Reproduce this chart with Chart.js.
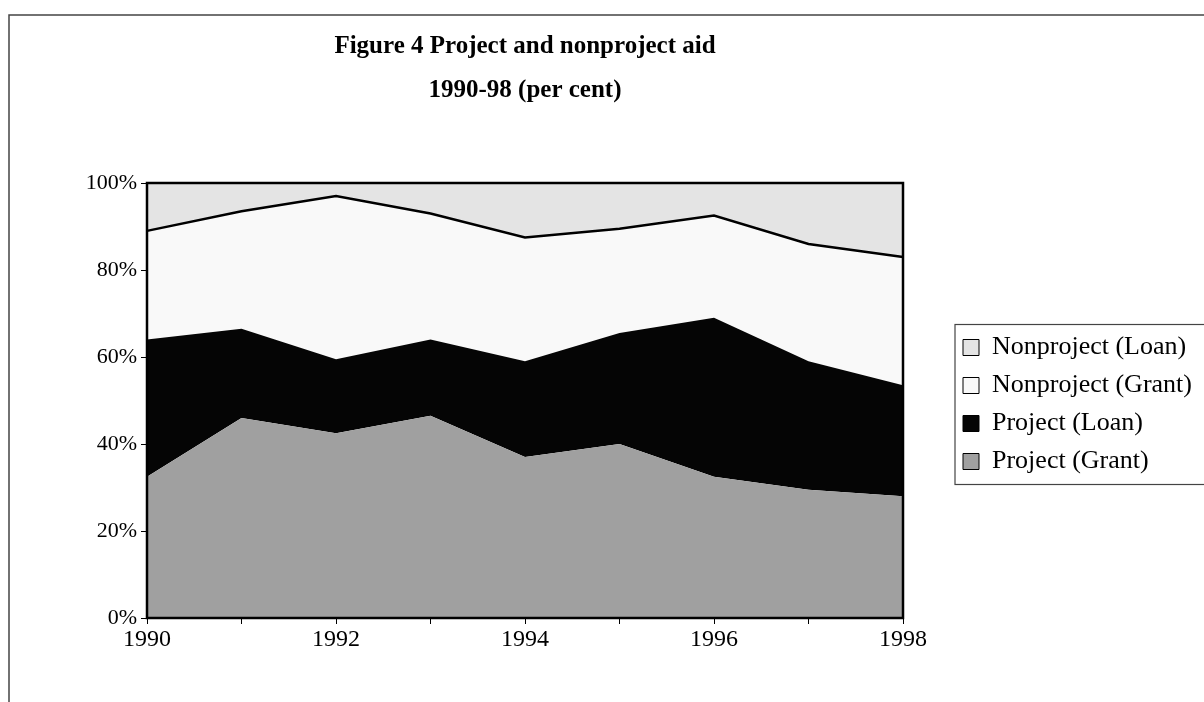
<!DOCTYPE html>
<html>
<head>
<meta charset="utf-8">
<script src="https://cdn.jsdelivr.net/npm/chart.js@4"></script>
<style>
  html, body { margin: 0; padding: 0; background: #fff; }
  #wrap { width: 1204px; height: 702px; }
</style>
</head>
<body>
<div id="wrap"><canvas id="aidChart" width="1204" height="702"></canvas></div>
<script>
// Years on the x axis
const years = ["1990", "1991", "1992", "1993", "1994", "1995", "1996", "1997", "1998"];

// Shares of total aid (per cent), stacked from the bottom up
const projectGrant = [32.5, 46, 42.5, 46.5, 37, 40, 32.5, 29.5, 28];
const projectLoan = [31.5, 20.5, 17, 17.5, 22, 25.5, 36.5, 29.5, 25.5];
const nonprojectGrant = [25, 27, 37.5, 29, 28.5, 24, 23.5, 27, 29.5];
const nonprojectLoan = [11, 6.5, 3, 7, 12.5, 10.5, 7.5, 14, 17];

// Only every other year gets a label
const yearLabels = ["1990", "", "1992", "", "1994", "", "1996", "", "1998"];

Chart.defaults.font.family = "'Liberation Serif', 'Times New Roman', serif";
Chart.defaults.color = "#000";

// Outer frame, plot border, legend box and the gap before the legend
const framePlugin = {
  id: "frame",
  afterLayout(chart) {
    const legend = chart.legend;
    const dx = chart.chartArea.right + 48 - legend.left;
    legend.left += dx;
    legend.right += dx;
    legend.top += 4;
    legend.bottom += 4;
  },
  beforeDraw(chart) {
    const ctx = chart.ctx;
    ctx.save();
    ctx.strokeStyle = "#444";
    ctx.lineWidth = 1.5;
    ctx.beginPath();
    ctx.moveTo(9, 702);
    ctx.lineTo(9, 15);
    ctx.lineTo(1204, 15);
    ctx.stroke();
    ctx.restore();
  },
  afterDraw(chart) {
    const ctx = chart.ctx;
    const area = chart.chartArea;
    ctx.save();
    ctx.strokeStyle = "#000";
    ctx.lineWidth = 2.5;
    ctx.strokeRect(area.left, area.top, area.right - area.left, area.bottom - area.top);

    const boxes = chart.legend.legendHitBoxes;
    if (boxes && boxes.length) {
      const top = boxes[0].top - 10;
      const last = boxes[boxes.length - 1];
      const bottom = last.top + last.height + 10;
      const left = chart.legend.left + 4;
      ctx.strokeStyle = "#444";
      ctx.lineWidth = 1.2;
      ctx.strokeRect(left, top, 1300 - left, bottom - top);
    }
    ctx.restore();
  }
};

const ctx = document.querySelector("#aidChart").getContext("2d");
const aidChart = new Chart(ctx, {
  type: "line",
  data: {
    labels: years,
    datasets: [
      {
        label: "Project (Grant)",
        data: projectGrant,
        backgroundColor: "#a0a0a0",
        borderColor: "#a0a0a0",
        borderWidth: 0,
        fill: "origin"
      },
      {
        label: "Project (Loan)",
        data: projectLoan,
        backgroundColor: "#050505",
        borderColor: "#050505",
        borderWidth: 0,
        fill: "-1"
      },
      {
        label: "Nonproject (Grant)",
        data: nonprojectGrant,
        backgroundColor: "#f9f9f9",
        borderColor: "#000",
        borderWidth: 2.5,
        fill: "-1"
      },
      {
        label: "Nonproject (Loan)",
        data: nonprojectLoan,
        backgroundColor: "#e4e4e4",
        borderColor: "#e4e4e4",
        borderWidth: 0,
        fill: "-1"
      }
    ]
  },
  options: {
    responsive: false,
    animation: false,
    layout: { padding: { right: 60 } },
    elements: {
      point: { radius: 0 },
      line: { tension: 0 }
    },
    scales: {
      x: {
        grid: { display: true, drawOnChartArea: false, tickLength: 6, color: "#000", lineWidth: 1 },
        border: { display: false },
        ticks: {
          autoSkip: false,
          maxRotation: 0,
          padding: 1,
          font: { size: 24 },
          callback: (v, i) => yearLabels[i]
        },
        afterFit: (scale) => { scale.height = 84; }
      },
      y: {
        stacked: true,
        min: 0,
        max: 100,
        grid: { display: true, drawOnChartArea: false, tickLength: 6, color: "#000", lineWidth: 1 },
        border: { display: false },
        ticks: {
          stepSize: 20,
          padding: 4,
          font: { size: 22 },
          callback: (v) => v + "%"
        },
        afterFit: (scale) => { scale.width = 147; }
      }
    },
    plugins: {
      title: {
        display: true,
        fullSize: false,
        text: ["Figure 4 Project and nonproject aid", "1990-98 (per cent)"],
        font: { size: 25, weight: "bold", lineHeight: 1.78 },
        padding: { top: 24, bottom: 70 }
      },
      legend: {
        position: "right",
        fullSize: false,
        reverse: true,
        maxWidth: 241,
        labels: {
          boxWidth: 16,
          boxHeight: 16,
          padding: 12,
          font: { size: 26, lineHeight: 1.03 },
          generateLabels: (chart) => {
            const items = Chart.defaults.plugins.legend.labels.generateLabels(chart);
            return items.map((item) => {
              item.fillStyle = chart.data.datasets[item.datasetIndex].backgroundColor;
              item.strokeStyle = "#000";
              item.lineWidth = 1;
              return item;
            });
          }
        }
      },
      tooltip: { enabled: false }
    }
  },
  plugins: [framePlugin]
});
</script>
</body>
</html>
